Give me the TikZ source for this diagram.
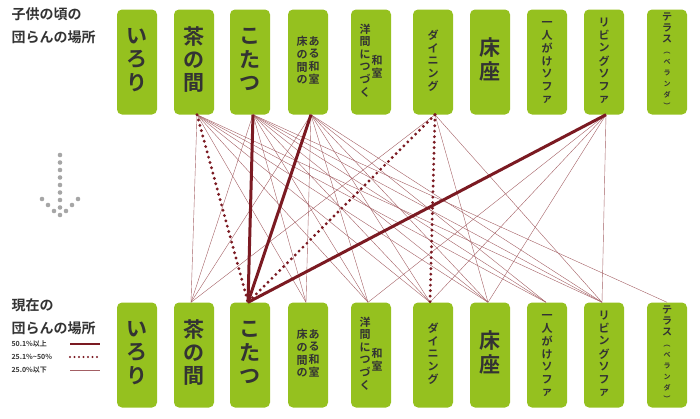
\documentclass[tikz,border=0pt]{standalone}
\usepackage{fontspec}
\setmainfont{Noto Sans CJK JP}[BoldFont={Noto Sans CJK JP Bold}]
\usepackage{graphicx}
\usetikzlibrary{positioning}
\definecolor{placegreen}{HTML}{95C11F}
\definecolor{linkred}{HTML}{7B1A22}
\tikzset{
  place/.style={fill=placegreen, rounded corners=5pt, minimum width=40pt, minimum height=105pt, inner sep=0pt, align=center, text=black!80, font=\bfseries},
  big/.style={font=\bfseries\fontsize{21}{23}\selectfont},
  small/.style={font=\bfseries\fontsize{11}{12.5}\selectfont},
  tiny/.style={font=\bfseries\fontsize{10}{11}\selectfont},
  strong/.style={linkred, line width=3pt},
  medium/.style={linkred, line width=3.2pt, dash pattern=on 0pt off 5.5pt, line cap=round},
  weak/.style={linkred!70, line width=0.4pt},
  head/.style={font=\bfseries\fontsize{14}{23}\selectfont, text=black!80, align=left, anchor=north west},
  legend/.style={font=\bfseries\fontsize{7}{8}\selectfont, text=black!80, anchor=west}
}
\newcommand{\col}[1]{\begin{tabular}{@{}c@{}}#1\end{tabular}}
\newcommand{\rot}[1]{\rotatebox[origin=c]{-90}{#1}}
\begin{document}
\begin{tikzpicture}[x=1pt,y=-1pt]
\useasboundingbox (0,0) rectangle (700,418);
\node[head] (toplabel) at (8,4) {子供の頃の\\団らんの場所};
\node[head] (botlabel) at (8,295) {現在の\\団らんの場所};

% boxes, top row then bottom row
\foreach \row/\y in {t/62, b/355} {
  \node[place, big] (\row1) at (137,\y) {\col{い\\ろ\\り}};
  \node[place, big] (\row2) at (194,\y) {\col{茶\\の\\間}};
  \node[place, big] (\row3) at (250,\y) {\col{こ\\た\\つ}};
  \node[place, small] (\row4) at (308,\y) {\col{床\\の\\間\\の}\hspace{1pt}\col{あ\\る\\和\\室}};
  \node[place, small] (\row5) at (371,\y) {\col{洋\\間\\に\\つ\\づ\\く}\hspace{1pt}\col{\\ \\和\\室\\ \\ }};
  \node[place, small] (\row6) at (433,\y) {\col{ダ\\イ\\ニ\\ン\\グ}};
  \node[place, big] (\row7) at (490,\y) {\col{床\\座}};
  \node[place, small] (\row8) at (547,\y) {\col{一\\人\\が\\け\\ソ\\フ\\ァ}};
  \node[place, small] (\row9) at (604,\y) {\col{リ\\ビ\\ン\\グ\\ソ\\フ\\ァ}};
  \node[place, tiny] (\row10) at (667,\y) {\col{テ\\ラ\\ス\\{\fontsize{7}{7.5}\selectfont\rot{（}}\\{\fontsize{7}{7.5}\selectfont ベ}\\{\fontsize{7}{7.5}\selectfont ラ}\\{\fontsize{7}{7.5}\selectfont ン}\\{\fontsize{7}{7.5}\selectfont ダ}\\{\fontsize{7}{7.5}\selectfont\rot{）}}}};
}

% link ends
\foreach \i/\dx in {2/3, 3/3, 4/3, 6/2, 9/2}
  \coordinate (s\i) at ([xshift=\dx pt]t\i.south);
\foreach \i/\dx in {2/-3, 3/-2, 4/-2, 5/-3, 6/-3, 7/-2, 8/-1, 9/-2, 10/0}
  \coordinate (e\i) at ([xshift=\dx pt]b\i.north);

% weak links
\foreach \a/\b in {2/2, 2/4, 2/5, 2/6, 2/7, 2/8, 2/9,
                   3/2, 3/4, 3/5, 3/6, 3/7, 3/8, 3/9, 3/10,
                   4/2, 4/4, 4/5, 4/6, 4/7, 4/8, 4/9,
                   6/2, 6/7, 6/9,
                   9/5, 9/6, 9/7, 9/9}
  \draw[weak] (s\a) -- (e\b);
% medium links
\foreach \a/\b in {2/3, 6/3, 6/6}
  \draw[medium] (s\a) -- (e\b);
% strong links
\foreach \a in {3, 4, 9}
  \draw[strong] (s\a) -- (e3);

% arrow of dots
\foreach \k in {0,...,8}
  \fill[gray!70] (60,{155+\k*7.5}) circle (2.3pt);
\foreach \k in {1,2,3}
  \fill[gray!70] ({60-\k*6},{217-\k*6}) circle (2.3pt)
                 ({60+\k*6},{217-\k*6}) circle (2.3pt);

% legend
\node[legend] (l1) at (8,344) {50.1\%以上};
\node[legend] (l2) at (8,357) {25.1\%\textasciitilde 50\%};
\node[legend] (l3) at (8,370) {25.0\%以下};
\coordinate (l1e) at (100,344);
\coordinate (l2e) at (100,357);
\coordinate (l3e) at (100,370);
\draw[strong, line width=2pt] (70,344) -- (l1e);
\draw[medium, line width=2.2pt, dash pattern=on 0pt off 4.5pt] (70,357) -- (l2e);
\draw[weak] (70,370) -- (l3e);
\end{tikzpicture}
\end{document}
